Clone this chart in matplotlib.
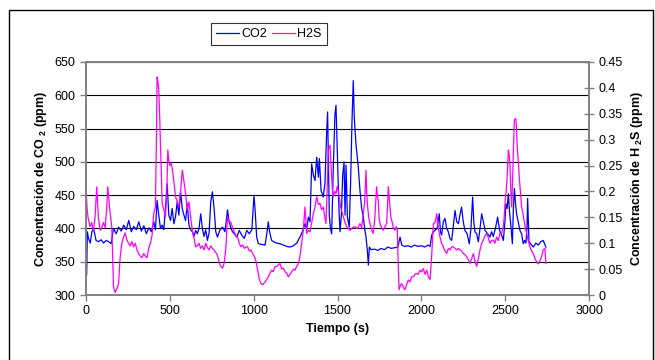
import matplotlib
matplotlib.use('Agg')
import matplotlib.pyplot as plt
from matplotlib.patches import Rectangle

plt.rcParams['font.family'] = ['Liberation Sans', 'DejaVu Sans']
plt.rcParams['font.size'] = 9
plt.rcParams['mathtext.fontset'] = 'custom'
plt.rcParams['mathtext.rm'] = 'Liberation Sans'
plt.rcParams['mathtext.bf'] = 'Liberation Sans:bold'

# CO2 (ppm)
t_co2 = [
    0, 4, 8, 15, 25, 35, 45, 60, 75, 90,
    105, 120, 135, 150, 164, 180, 195, 210, 225, 240,
    255, 270, 285, 300, 315, 330, 345, 360, 375, 390,
    404, 414, 424, 434, 444, 454, 464, 474, 484, 494,
    504, 514, 524, 534, 544, 554, 564, 574, 584, 594,
    604, 614, 624, 634, 644, 654, 664, 674, 684, 694,
    704, 714, 724, 734, 744, 754, 764, 774, 784, 799,
    814, 829, 844, 854, 864, 874, 884, 899, 914, 929,
    944, 959, 974, 989, 1002, 1008, 1018, 1028, 1048, 1068,
    1080, 1087, 1095, 1107, 1120, 1137, 1157, 1177, 1197, 1217,
    1237, 1257, 1276, 1291, 1306, 1316, 1326, 1336, 1346, 1356,
    1366, 1376, 1386, 1392, 1402, 1415, 1425, 1435, 1441, 1451,
    1458, 1465, 1475, 1485, 1491, 1499, 1509, 1515, 1523, 1531,
    1539, 1545, 1551, 1559, 1570, 1578, 1586, 1594, 1600, 1610,
    1624, 1634, 1644, 1654, 1662, 1670, 1678, 1684, 1690, 1700,
    1720, 1740, 1760, 1780, 1800, 1820, 1840, 1860, 1873, 1883,
    1900, 1920, 1940, 1960, 1980, 2000, 2020, 2040, 2052, 2062,
    2072, 2081, 2094, 2107, 2114, 2121, 2131, 2141, 2151, 2161,
    2171, 2181, 2191, 2201, 2211, 2221, 2230, 2240, 2250, 2260,
    2273, 2286, 2296, 2306, 2313, 2320, 2330, 2340, 2350, 2360,
    2370, 2380, 2395, 2409, 2419, 2429, 2442, 2455, 2462, 2469,
    2479, 2489, 2497, 2505, 2512, 2519, 2526, 2533, 2543, 2549,
    2555, 2561, 2568, 2578, 2588, 2598, 2608, 2616, 2624, 2630,
    2634, 2638, 2642, 2655, 2668, 2683, 2698, 2712, 2727, 2735,
    2743,
]
co2 = [
    400, 330, 395, 385, 378, 395, 400, 382, 380, 383,
    378, 382, 380, 377, 400, 392, 402, 396, 405, 398,
    412, 395, 403, 398, 410, 396, 404, 392, 401, 395,
    410, 398, 442, 420, 400, 405, 398, 430, 467, 420,
    412, 430, 407, 418, 440, 420, 455, 430, 420, 412,
    437, 405, 398, 395, 388, 397, 392, 400, 422, 400,
    388, 398, 382, 393, 440, 455, 430, 395, 387, 398,
    402, 395, 428, 410, 400, 395, 392, 387, 397, 390,
    385, 397, 392, 398, 450, 430, 387, 377, 376, 375,
    395, 410, 395, 382, 380, 378, 377, 375, 373, 372,
    374, 378, 387, 395, 407, 398, 417, 410, 497, 480,
    472, 507, 477, 505, 457, 447, 467, 542, 575, 420,
    400, 392, 492, 572, 585, 517, 427, 395, 420, 480,
    500, 420, 495, 417, 402, 467, 557, 622, 567, 527,
    492, 457, 430, 417, 400, 387, 367, 345, 372, 368,
    369, 367, 370, 368, 372, 370, 371, 372, 387, 375,
    373, 374, 372, 375, 373, 374, 372, 375, 373, 390,
    395, 397, 400, 422, 395, 390, 410, 415, 400, 395,
    385, 382, 405, 427, 410, 407, 420, 432, 410, 397,
    392, 377, 400, 447, 410, 395, 392, 380, 400, 422,
    410, 397, 392, 387, 395, 388, 400, 417, 405, 395,
    390, 382, 405, 437, 430, 452, 425, 407, 377, 430,
    460, 440, 422, 410, 397, 392, 377, 382, 378, 400,
    445, 410, 380, 376, 372, 378, 375, 380, 382, 377,
    372,
]

# H2S (ppm)
t_h2s = [
    0, 6, 12, 24, 34, 44, 54, 64, 74, 84,
    94, 104, 114, 122, 130, 140, 154, 160, 164, 174,
    184, 194, 204, 214, 224, 234, 244, 254, 264, 274,
    284, 294, 304, 314, 324, 334, 344, 354, 364, 374,
    384, 394, 404, 414, 420, 424, 430, 434, 440, 444,
    449, 454, 464, 474, 482, 488, 494, 500, 507, 514,
    524, 534, 544, 554, 564, 574, 584, 594, 604, 614,
    624, 634, 644, 654, 664, 674, 684, 694, 704, 714,
    724, 734, 744, 754, 764, 774, 784, 794, 804, 814,
    824, 834, 844, 854, 864, 874, 884, 894, 904, 914,
    924, 934, 944, 954, 964, 974, 984, 994, 1004, 1014,
    1024, 1034, 1044, 1054, 1068, 1078, 1087, 1097, 1107, 1117,
    1127, 1137, 1147, 1157, 1167, 1177, 1187, 1197, 1207, 1217,
    1227, 1237, 1247, 1256, 1266, 1276, 1286, 1296, 1306, 1316,
    1326, 1336, 1346, 1356, 1366, 1376, 1386, 1395, 1405, 1415,
    1425, 1431, 1438, 1445, 1455, 1460, 1465, 1470, 1475, 1483,
    1491, 1498, 1505, 1512, 1519, 1527, 1535, 1545, 1555, 1565,
    1574, 1589, 1604, 1619, 1634, 1644, 1654, 1662, 1670, 1674,
    1678, 1686, 1694, 1704, 1713, 1723, 1733, 1738, 1743, 1748,
    1753, 1763, 1773, 1783, 1793, 1798, 1803, 1808, 1813, 1818,
    1823, 1833, 1843, 1850, 1857, 1862, 1867, 1875, 1883, 1892,
    1902, 1912, 1922, 1932, 1942, 1952, 1962, 1972, 1982, 1992,
    2002, 2012, 2022, 2032, 2042, 2052, 2058, 2062, 2067, 2072,
    2082, 2092, 2101, 2111, 2121, 2131, 2141, 2151, 2161, 2171,
    2181, 2191, 2201, 2211, 2221, 2230, 2240, 2250, 2260, 2270,
    2280, 2290, 2300, 2310, 2320, 2330, 2340, 2350, 2360, 2370,
    2380, 2390, 2400, 2409, 2419, 2429, 2439, 2449, 2459, 2469,
    2479, 2489, 2494, 2499, 2506, 2513, 2519, 2524, 2529, 2534,
    2539, 2544, 2549, 2555, 2563, 2568, 2572, 2578, 2584, 2591,
    2598, 2605, 2612, 2620, 2628, 2638, 2648, 2658, 2668, 2678,
    2688, 2698, 2708, 2718, 2727, 2737, 2743,
]
h2s = [
    0.209, 0.17, 0.15, 0.132, 0.14, 0.125, 0.15, 0.209, 0.15, 0.125,
    0.13, 0.14, 0.13, 0.16, 0.209, 0.17, 0.13, 0.06, 0.015, 0.005,
    0.012, 0.022, 0.074, 0.1, 0.112, 0.12, 0.106, 0.1, 0.095, 0.103,
    0.093, 0.1, 0.087, 0.08, 0.075, 0.072, 0.08, 0.075, 0.072, 0.09,
    0.1, 0.115, 0.157, 0.17, 0.3, 0.421, 0.41, 0.395, 0.34, 0.29,
    0.24, 0.177, 0.165, 0.151, 0.2, 0.28, 0.26, 0.25, 0.255, 0.245,
    0.22, 0.19, 0.18, 0.17, 0.2, 0.241, 0.22, 0.196, 0.164, 0.18,
    0.15, 0.125, 0.11, 0.093, 0.095, 0.1, 0.09, 0.095, 0.087, 0.1,
    0.092, 0.087, 0.095, 0.09, 0.087, 0.082, 0.077, 0.063, 0.055, 0.052,
    0.061, 0.09, 0.151, 0.14, 0.141, 0.13, 0.122, 0.115, 0.112, 0.1,
    0.093, 0.097, 0.09, 0.093, 0.093, 0.085, 0.087, 0.08, 0.074, 0.065,
    0.048, 0.03, 0.022, 0.02, 0.025, 0.03, 0.035, 0.042, 0.048, 0.045,
    0.055, 0.055, 0.058, 0.061, 0.05, 0.052, 0.045, 0.042, 0.035, 0.04,
    0.045, 0.05, 0.048, 0.055, 0.06, 0.074, 0.1, 0.125, 0.17, 0.119,
    0.125, 0.122, 0.14, 0.157, 0.17, 0.19, 0.175, 0.177, 0.165, 0.17,
    0.15, 0.138, 0.2, 0.28, 0.289, 0.26, 0.228, 0.2, 0.19, 0.2,
    0.196, 0.21, 0.2, 0.185, 0.17, 0.16, 0.151, 0.14, 0.132, 0.128,
    0.125, 0.13, 0.132, 0.128, 0.138, 0.13, 0.157, 0.18, 0.241, 0.2,
    0.177, 0.15, 0.138, 0.125, 0.119, 0.15, 0.209, 0.19, 0.183, 0.15,
    0.138, 0.13, 0.125, 0.132, 0.138, 0.17, 0.209, 0.19, 0.17, 0.15,
    0.145, 0.13, 0.125, 0.132, 0.125, 0.06, 0.01, 0.018, 0.022, 0.015,
    0.01, 0.02, 0.029, 0.025, 0.035, 0.035, 0.04, 0.042, 0.04, 0.048,
    0.045, 0.051, 0.04, 0.048, 0.035, 0.03, 0.06, 0.077, 0.11, 0.138,
    0.14, 0.157, 0.13, 0.112, 0.1, 0.093, 0.085, 0.08, 0.09, 0.087,
    0.093, 0.093, 0.09, 0.087, 0.09, 0.087, 0.085, 0.08, 0.078, 0.074,
    0.068, 0.061, 0.07, 0.08, 0.065, 0.055, 0.07, 0.087, 0.1, 0.106,
    0.115, 0.119, 0.11, 0.1, 0.105, 0.106, 0.1, 0.112, 0.105, 0.119,
    0.12, 0.132, 0.15, 0.177, 0.2, 0.235, 0.28, 0.27, 0.248, 0.2,
    0.17, 0.22, 0.28, 0.338, 0.341, 0.32, 0.286, 0.26, 0.228, 0.2,
    0.17, 0.16, 0.145, 0.13, 0.119, 0.105, 0.093, 0.085, 0.08, 0.07,
    0.064, 0.06, 0.066, 0.075, 0.087, 0.09, 0.061,
]

co2_ticks = [300, 350, 400, 450, 500, 550, 600, 650]
h2s_ticks = [0, 0.05, 0.1, 0.15, 0.2, 0.25, 0.3, 0.35, 0.4, 0.45]
h2s_labels = ['0', '0.05', '0.1', '0.15', '0.2', '0.25', '0.3', '0.35', '0.4', '0.45']
time_ticks = [0, 500, 1000, 1500, 2000, 2500, 3000]

fig = plt.figure(figsize=(6.55, 3.6), dpi=100)
fig.patches.append(Rectangle((9 / 655, -0.01), 644 / 655, 0.982, transform=fig.transFigure,
                             fill=False, edgecolor='black', linewidth=1.0))

ax1 = fig.add_axes([86 / 655, 65 / 360, 503 / 655, 233 / 360])
ax2 = ax1.twinx()

l1, = ax1.plot(t_co2, co2, color='#0000FF', linewidth=0.9, label='CO2')
l2, = ax2.plot(t_h2s, h2s, color='#FF00FF', linewidth=0.9, label='H2S')

ax1.set_xlim(0, 3000)
ax1.set_ylim(300, 650)
ax2.set_ylim(0, 0.45)
ax1.set_xticks(time_ticks)
ax1.set_yticks(co2_ticks)
ax2.set_yticks(h2s_ticks)
ax2.set_yticklabels(h2s_labels)

ax1.grid(axis='y', color='black', linewidth=0.8)
ax1.set_axisbelow(True)
for sp in ['left', 'bottom', 'top', 'right']:
    ax1.spines[sp].set_color('#808080')
    ax2.spines[sp].set_color('#808080')
    ax1.spines[sp].set_linewidth(1.2)
    ax2.spines[sp].set_linewidth(1.2)

ax1.tick_params(axis='both', direction='out', length=4, width=1, color='#808080', labelsize=9)
ax2.tick_params(axis='y', direction='inout', length=7, width=1, color='#808080', labelsize=9)

ax1.set_xlabel('Tiempo (s)', fontweight='bold', fontsize=9)
ax1.set_ylabel(r'Concentración de CO $_\mathbf{2}$ (ppm)', fontweight='bold', fontsize=9)
ax2.set_ylabel(r'Concentración de H $_\mathbf{2}$S (ppm)', fontweight='bold', fontsize=9)

leg = fig.legend([l1, l2], ['CO2', 'H2S'], loc='center', bbox_to_anchor=(269 / 655, 1 - 34 / 360),
                 ncol=2, frameon=True, fancybox=False, handlelength=1.8, handletextpad=0.2,
                 columnspacing=0.4, borderpad=0.4, borderaxespad=0, fontsize=9)
leg.get_frame().set_edgecolor('black')
leg.get_frame().set_linewidth(0.8)

fig.savefig('out.png', dpi=100)
